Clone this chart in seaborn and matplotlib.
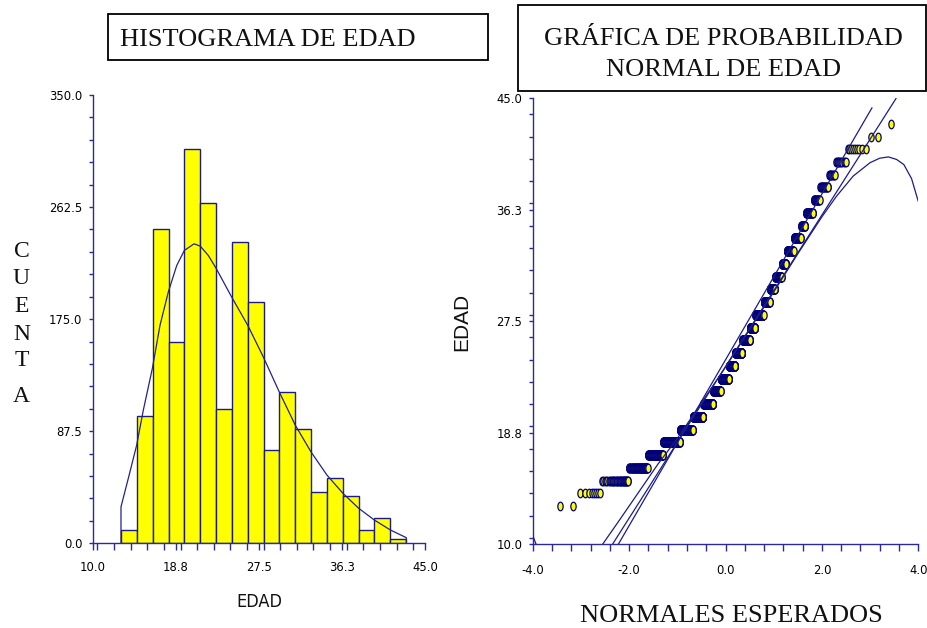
import numpy as np
import pandas as pd
import matplotlib
matplotlib.use("Agg")
import matplotlib.pyplot as plt
import seaborn as sns
from matplotlib.path import Path
from matplotlib.transforms import Affine2D
from matplotlib.patches import Rectangle
from matplotlib.ticker import MultipleLocator
from matplotlib import font_manager
from statistics import NormalDist

# ---------------- data ----------------
ages = list(range(13, 44))
age_counts = [2, 8, 35, 64, 91, 154, 157, 152, 156, 125, 141, 105, 117, 118, 78,
              110, 73, 55, 63, 39, 50, 40, 22, 29, 19, 18, 10, 11, 9, 2, 1]

# fitted density trace drawn over the histogram
dens_x = [12.98, 12.98, 13.75, 14.63, 15.33, 16.28, 17.09, 17.96, 18.85, 19.65,
          20.67, 21.33, 22.18, 23.02, 24.64, 26.33, 27.97, 29.65, 31.34, 32.99,
          34.68, 36.36, 38.02, 39.66, 41.35, 43.03, 43.03]
dens_y = [0.0, 28.5, 50.7, 76.6, 103.9, 136.4, 170.2, 196.1, 216.9, 228.6,
          233.8, 232.0, 224.7, 214.4, 192.2, 170.2, 145.5, 118.2, 92.2, 71.4,
          53.2, 39.0, 27.3, 18.2, 10.4, 4.4, 0.0]

# reference lines of the normal probability plot
lineA_z = [-2.224, 3.04]
lineA_y = [10.0, 44.26]
lineB_z = [-2.345, 3.54]
lineB_y = [10.0, 45.0]
curve1_z = [-4.0, -3.93]
curve1_y = [10.7, 10.0]
curve2_z = [-2.55, -2.2, -1.8, -1.4, -1.0, 0.0, 1.0, 1.5, 2.0, 2.3, 2.65, 3.0,
            3.2, 3.38, 3.55, 3.7, 3.86, 4.0]
curve2_y = [10.0, 11.9, 14.1, 16.3, 18.3, 23.9, 29.8, 32.8, 35.7, 37.3, 38.9,
            39.95, 40.3, 40.4, 40.2, 39.8, 38.7, 36.9]

hist_xticks = [10.0, 18.75, 27.5, 36.25, 45.0]
hist_xticklabels = ["10.0", "18.8", "27.5", "36.3", "45.0"]
hist_yticks = [0.0, 87.5, 175.0, 262.5, 350.0]
hist_yticklabels = ["0.0", "87.5", "175.0", "262.5", "350.0"]
qq_xticks = [-4.0, -2.0, 0.0, 2.0, 4.0]
qq_xticklabels = ["-4.0", "-2.0", "0.0", "2.0", "4.0"]
qq_yticks = [10.0, 18.75, 27.5, 36.25, 45.0]
qq_yticklabels = ["10.0", "18.8", "27.5", "36.3", "45.0"]

# ---------------- style ----------------
sns.set_style("white")
names = {f.name for f in font_manager.fontManager.ttflist}
if "Liberation Sans Narrow" in names:
    tick_font = dict(family="Liberation Sans Narrow", size=10.5)
    narrow_label = dict(family="Liberation Sans Narrow", size=14)
else:
    tick_font = dict(family="DejaVu Sans", stretch="condensed", size=9.3)
    narrow_label = dict(family="DejaVu Sans", stretch="condensed", size=13)
serif = "Liberation Serif"
sans = "Liberation Sans"
plt.rcParams["font.family"] = ["Liberation Sans", "DejaVu Sans"]

NAVY_AX = "#2a2a9a"
NAVY_EDGE = "#1c1c84"
NAVY_DOT = "#00007a"
YELLOW = "#FFFF00"

W, H = 927, 628
fig = plt.figure(figsize=(W / 100, H / 100), dpi=100)
fig.patch.set_facecolor("white")


def ax_rect(x0, x1, ytop, ybot):
    return [x0 / W, 1 - ybot / H, (x1 - x0) / W, (ybot - ytop) / H]


def fx(px):
    return px / W


def fy(py):
    return 1 - py / H


ax1 = fig.add_axes(ax_rect(92.7, 425.0, 95.0, 543.3))
ax2 = fig.add_axes(ax_rect(532.7, 918.3, 98.3, 544.3))

# ---------------- histogram ----------------
edad = np.repeat(ages, age_counts)
edges = np.linspace(13, 43, 19)
edges[1:-1] += 1e-6  # right-closed bins for integer ages
sns.histplot(x=edad, bins=edges, stat="count", color=YELLOW, edgecolor=NAVY_EDGE,
             linewidth=1.0, alpha=1, ax=ax1, zorder=2)
dens_df = pd.DataFrame({"x": dens_x, "y": dens_y})
sns.lineplot(data=dens_df, x="x", y="y", estimator=None, sort=False,
             color="#22228c", linewidth=0.9, ax=ax1, zorder=3)

ax1.set_xlim(10, 45)
ax1.set_ylim(0, 350)
ax1.set_xticks(hist_xticks)
ax1.set_xticklabels(hist_xticklabels)
ax1.set_yticks(hist_yticks)
ax1.set_yticklabels(hist_yticklabels)
ax1.xaxis.set_minor_locator(MultipleLocator(1.75))
ax1.yaxis.set_minor_locator(MultipleLocator(17.5))
ax1.set_xlabel("")
ax1.set_ylabel("")

# ---------------- normal probability plot ----------------
edad_sorted = np.sort(edad)
n = len(edad_sorted)
nd = NormalDist()
zscores = np.array([nd.inv_cdf((i - 0.375) / (n + 0.25)) for i in range(1, n + 1)])
qq_df = pd.DataFrame({"z": zscores, "edad": edad_sorted})

ell = Path.unit_circle().transformed(Affine2D().scale(0.62, 1.0))
sns.scatterplot(data=qq_df, x="z", y="edad", marker=ell, s=38, color=YELLOW,
                edgecolor=NAVY_DOT, linewidth=0.9, ax=ax2, legend=False,
                zorder=3, clip_on=False)

lines_df = pd.concat([
    pd.DataFrame({"z": lineA_z, "y": lineA_y, "seg": "A"}),
    pd.DataFrame({"z": lineB_z, "y": lineB_y, "seg": "B"}),
    pd.DataFrame({"z": curve1_z, "y": curve1_y, "seg": "C1"}),
    pd.DataFrame({"z": curve2_z, "y": curve2_y, "seg": "C2"}),
], ignore_index=True)
sns.lineplot(data=lines_df, x="z", y="y", units="seg", estimator=None, sort=False,
             color="#1c1c8a", linewidth=0.9, ax=ax2, zorder=4)

ax2.set_xlim(-4, 4)
ax2.set_ylim(10, 45)
ax2.set_xticks(qq_xticks)
ax2.set_xticklabels(qq_xticklabels)
ax2.set_yticks(qq_yticks)
ax2.set_yticklabels(qq_yticklabels)
ax2.xaxis.set_minor_locator(MultipleLocator(0.4))
ax2.yaxis.set_minor_locator(MultipleLocator(1.75))
ax2.set_xlabel("")
ax2.set_ylabel("")

for ax, xpad, ypad in ((ax1, 8.0, 4.3), (ax2, 9.0, 4.3)):
    ax.set_facecolor("white")
    for s in ("top", "right"):
        ax.spines[s].set_visible(False)
    for s in ("left", "bottom"):
        ax.spines[s].set_color(NAVY_AX)
        ax.spines[s].set_linewidth(1.0)
    ax.tick_params(axis="x", which="both", direction="out", length=5, width=1,
                   color=NAVY_AX, pad=xpad, bottom=True)
    ax.tick_params(axis="y", which="both", direction="out", length=3.2, width=1,
                   color=NAVY_AX, pad=ypad, left=True)
    for lab in ax.get_xticklabels() + ax.get_yticklabels():
        lab.set_fontproperties(font_manager.FontProperties(**tick_font))
        lab.set_color("black")
    ax.grid(False)

# ---------------- texts ----------------
fig.add_artist(Rectangle((fx(108), fy(60)), (488 - 108) / W, (60 - 14) / H,
                         transform=fig.transFigure, fill=False, edgecolor="black",
                         linewidth=1.3))
fig.text(fx(268), fy(45.5), "HISTOGRAMA DE EDAD", family=serif, size=19,
         ha="center", va="baseline", color="#111111")

fig.add_artist(Rectangle((fx(518), fy(91)), (926 - 518) / W, (91 - 5) / H,
                         transform=fig.transFigure, fill=False, edgecolor="black",
                         linewidth=1.3))
fig.text(fx(723), fy(45), "GRÁFICA DE PROBABILIDAD", family=serif, size=19,
         ha="center", va="baseline", color="#111111")
fig.text(fx(723), fy(76), "NORMAL DE EDAD", family=serif, size=19,
         ha="center", va="baseline", color="#111111")

cuenta_letters = ["C", "U", "E", "N", "T", "A"]
cuenta_y = [249, 277, 304, 332, 359, 395]
for letter, py in zip(cuenta_letters, cuenta_y):
    fig.text(fx(21.5), fy(py + 7.5), letter, family=serif, size=17,
             ha="center", va="baseline", color="#111111")

fig.text(fx(259), fy(602), "EDAD", ha="center", va="center",
         color="#111111", **narrow_label)
fig.text(fx(462), fy(322), "EDAD", family=sans, size=15, rotation=90,
         ha="center", va="center", color="#111111")
fig.text(fx(731), fy(621.7), "NORMALES ESPERADOS", family=serif, size=19,
         ha="center", va="baseline", color="#111111")

fig.savefig("out.png", dpi=100, facecolor="white")
